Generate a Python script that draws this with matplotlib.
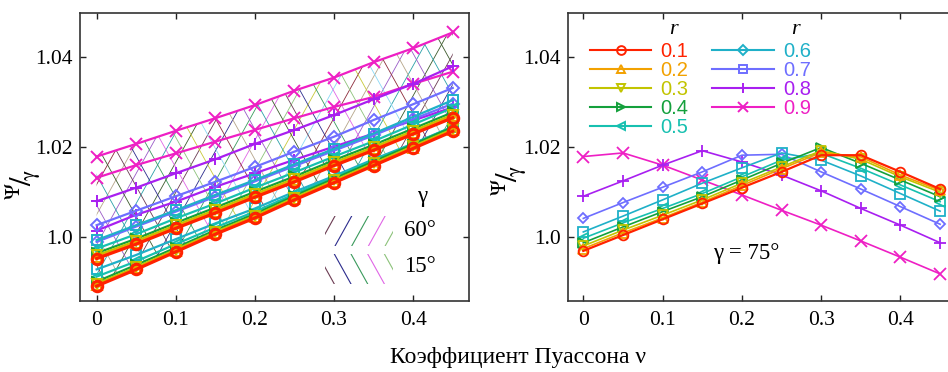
import numpy as np
import matplotlib
matplotlib.use('Agg')
import matplotlib.pyplot as plt
from matplotlib.patches import Polygon, Rectangle
from matplotlib.lines import Line2D

# ---------------- data ----------------
nu = [0.0, 0.05, 0.10, 0.15, 0.20, 0.25, 0.30, 0.35, 0.40, 0.45]
r_labels = ['0.1', '0.2', '0.3', '0.4', '0.5', '0.6', '0.7', '0.8', '0.9']

# left panel, upper family (gamma = 60 deg)
g60_r01 = [0.9953, 0.9985, 1.0020, 1.0054, 1.0089, 1.0123, 1.0159, 1.0193, 1.0229, 1.0265]
g60_r02 = [0.9956, 0.9988, 1.0023, 1.0057, 1.0092, 1.0126, 1.0162, 1.0196, 1.0232, 1.0268]
g60_r03 = [0.9960, 0.9992, 1.0027, 1.0061, 1.0096, 1.0130, 1.0166, 1.0200, 1.0236, 1.0272]
g60_r04 = [0.9965, 0.9997, 1.0032, 1.0066, 1.0101, 1.0135, 1.0171, 1.0205, 1.0241, 1.0277]
g60_r05 = [0.9975, 1.0007, 1.0042, 1.0075, 1.0110, 1.0144, 1.0179, 1.0213, 1.0250, 1.0287]
g60_r06 = [0.9994, 1.0027, 1.0060, 1.0094, 1.0127, 1.0162, 1.0196, 1.0230, 1.0267, 1.0304]
g60_r07 = [1.0027, 1.0059, 1.0091, 1.0123, 1.0156, 1.0190, 1.0223, 1.0260, 1.0295, 1.0331]
g60_r08 = [1.0080, 1.0110, 1.0142, 1.0173, 1.0207, 1.0238, 1.0271, 1.0306, 1.0340, 1.0379]
g60_r09 = [1.0179, 1.0207, 1.0236, 1.0264, 1.0293, 1.0325, 1.0354, 1.0388, 1.0419, 1.0454]

# left panel, lower family (gamma = 15 deg)
g15_r01 = [0.9892, 0.9929, 0.9968, 1.0007, 1.0043, 1.0083, 1.0121, 1.0159, 1.0197, 1.0235]
g15_r02 = [0.9894, 0.9931, 0.9970, 1.0009, 1.0045, 1.0085, 1.0123, 1.0161, 1.0199, 1.0237]
g15_r03 = [0.9897, 0.9934, 0.9973, 1.0012, 1.0048, 1.0088, 1.0126, 1.0164, 1.0202, 1.0240]
g15_r04 = [0.9902, 0.9939, 0.9977, 1.0016, 1.0052, 1.0092, 1.0130, 1.0168, 1.0206, 1.0244]
g15_r05 = [0.9913, 0.9947, 0.9985, 1.0022, 1.0057, 1.0096, 1.0133, 1.0171, 1.0207, 1.0245]
g15_r06 = [0.9929, 0.9961, 0.9996, 1.0031, 1.0064, 1.0101, 1.0136, 1.0173, 1.0208, 1.0245]
g15_r07 = [0.9990, 1.0024, 1.0057, 1.0090, 1.0124, 1.0158, 1.0192, 1.0226, 1.0262, 1.0296]
g15_r08 = [1.0015, 1.0050, 1.0079, 1.0112, 1.0142, 1.0172, 1.0201, 1.0230, 1.0259, 1.0288]
g15_r09 = [1.0132, 1.0160, 1.0186, 1.0212, 1.0238, 1.0264, 1.0289, 1.0311, 1.0340, 1.0367]

# right panel (gamma = 75 deg)
g75_r01 = [0.9970, 1.0005, 1.0040, 1.0075, 1.0110, 1.0145, 1.0182, 1.0182, 1.0145, 1.0107]
g75_r02 = [0.9975, 1.0010, 1.0043, 1.0078, 1.0115, 1.0152, 1.0188, 1.0178, 1.0138, 1.0104]
g75_r03 = [0.9981, 1.0016, 1.0049, 1.0083, 1.0120, 1.0156, 1.0192, 1.0173, 1.0134, 1.0100]
g75_r04 = [0.9988, 1.0023, 1.0057, 1.0090, 1.0127, 1.0164, 1.0199, 1.0164, 1.0127, 1.0090]
g75_r05 = [0.9998, 1.0032, 1.0064, 1.0097, 1.0134, 1.0171, 1.0186, 1.0153, 1.0116, 1.0079]
g75_r06 = [1.0012, 1.0047, 1.0083, 1.0120, 1.0154, 1.0187, 1.0171, 1.0136, 1.0097, 1.0058]
g75_r07 = [1.0042, 1.0077, 1.0111, 1.0145, 1.0182, 1.0184, 1.0145, 1.0107, 1.0068, 1.0029]
g75_r08 = [1.0091, 1.0125, 1.0160, 1.0192, 1.0167, 1.0138, 1.0103, 1.0064, 1.0027, 0.9988]
g75_r09 = [1.0179, 1.0187, 1.0160, 1.0127, 1.0094, 1.0060, 1.0027, 0.9992, 0.9956, 0.9919]

left_g60 = [g60_r01, g60_r02, g60_r03, g60_r04, g60_r05, g60_r06, g60_r07, g60_r08, g60_r09]
left_g15 = [g15_r01, g15_r02, g15_r03, g15_r04, g15_r05, g15_r06, g15_r07, g15_r08, g15_r09]
right_g75 = [g75_r01, g75_r02, g75_r03, g75_r04, g75_r05, g75_r06, g75_r07, g75_r08, g75_r09]

xticks = [0.0, 0.1, 0.2, 0.3, 0.4]
xtick_labels = ['0', '0.1', '0.2', '0.3', '0.4']
yticks = [1.0, 1.02, 1.04]
ytick_labels = ['1.0', '1.02', '1.04']
gamma_legend = ['60°', '15°']

# ---------------- styles ----------------
colors = ['#ff2200', '#f2a100', '#c2c400', '#14a03c', '#17c0b0',
          '#1fb0c8', '#6e6eff', '#a81ff0', '#ee1fc4']
plot_markers = ['o', '^', 'v', '>', '<', 's', 'D', '+', 'x']
legend_markers = ['o', '^', 'v', '>', '<', 'D', 's', '+', 'x']
hatch_colors = ['#6b3b52', '#2b2b8c', '#3a9a5c', '#e066e6', '#8cc27a',
                '#c8c838', '#8ad8f5', '#8c2a3a', '#b5a58a', '#9a5ac8',
                '#2aa0a8', '#3c5a2c']

plt.rcParams['font.family'] = ['Liberation Serif', 'DejaVu Serif']
plt.rcParams['mathtext.fontset'] = 'stix'

W, H = 948, 372
fig = plt.figure(figsize=(W / 100, H / 100), dpi=100)
AX_W, AX_H = 389, 288
axL = fig.add_axes([80 / W, 71 / H, AX_W / W, AX_H / H])
axR = fig.add_axes([567.7 / W, 71 / H, AX_W / W, AX_H / H])

for ax, xl in ((axL, (-0.021, 0.4705)), (axR, (-0.0197, 0.4709))):
    ax.set_xlim(*xl)
    ax.set_ylim(0.9859, 1.0497)
    ax.set_xticks(xticks)
    ax.set_xticklabels(xtick_labels)
    ax.set_yticks(yticks)
    ax.set_yticklabels(ytick_labels)
    ax.tick_params(direction='in', top=True, right=True, length=4.5,
                   width=1.0, labelsize=15.5, color='#222222')
    ax.tick_params(axis='x', pad=7)
    ax.tick_params(axis='y', pad=5)
    for s in ax.spines.values():
        s.set_linewidth(1.2)
        s.set_color('#333333')

# ---------------- hatching (left panel) ----------------
SLOPE = 1.8
SP = 16.7


def hatch_lines(ax, clip, direction, x0_first, n, cols, lw=0.6):
    for k in range(n):
        x0 = x0_first + k * SP
        px = np.array([x0, x0 + AX_H / SLOPE])
        py = np.array([0.0, AX_H]) if direction == '/' else np.array([AX_H, 0.0])
        ln, = ax.plot(px / AX_W, py / AX_H, transform=ax.transAxes,
                      color=cols[k % len(cols)], lw=lw, zorder=1)
        ln.set_clip_path(clip)


verts = np.column_stack([nu + nu[::-1], g60_r09 + g15_r01[::-1]])
region = Polygon(verts, closed=True, transform=axL.transData)
nlines = int((AX_W + AX_H / SLOPE) / SP) + 3
hatch_lines(axL, region, '/', -AX_H / SLOPE - 5, nlines, hatch_colors)
hatch_lines(axL, region, '\\', -AX_H / SLOPE + 3, nlines, hatch_colors[5:] + hatch_colors[:5])

# gamma legend samples
leg_cols = ['#6b3b52', '#2b2b8c', '#3a9a5c', '#e066e6', '#8cc27a']
rect60 = Rectangle((245 / AX_W, 55 / AX_H), 67.7 / AX_W, 30 / AX_H, transform=axL.transAxes)
rect15 = Rectangle((245 / AX_W, 17 / AX_H), 67.7 / AX_W, 30 / AX_H, transform=axL.transAxes)
hatch_lines(axL, rect60, '/', 255 - 85 / SLOPE, 5, leg_cols, lw=0.8)
hatch_lines(axL, rect15, '\\', 254.3 - AX_H / SLOPE + 17 / SLOPE, 5, leg_cols, lw=0.8)

axL.text(341.7 / AX_W, (301 - 196.7) / AX_H, 'γ', transform=axL.transAxes,
         ha='center', va='center', fontsize=16.5)
axL.text(340 / AX_W, (301 - 230) / AX_H, gamma_legend[0], transform=axL.transAxes,
         ha='center', va='center', fontsize=16.5)
axL.text(340 / AX_W, (301 - 267) / AX_H, gamma_legend[1], transform=axL.transAxes,
         ha='center', va='center', fontsize=16.5)

# ---------------- series ----------------
def marker_size(m, base):
    if m == 'D':
        return base * 0.8
    if m in ('+', 'x'):
        return base * 1.15
    return base


for fam in (left_g15, left_g60):
    for i in range(8, -1, -1):
        m = plot_markers[i]
        lw = 2.3 if i == 0 else 1.6
        mew = 2.2 if i == 0 else 1.4
        axL.plot(nu, fam[i], color=colors[i], lw=lw, marker=m,
                 ms=marker_size(m, 7.5), mfc='none', mec=colors[i], mew=mew,
                 zorder=3 + (8 - i) * 0.1)

for i in range(8, -1, -1):
    m = plot_markers[i]
    lw = 1.6 if i == 0 else 1.2
    axR.plot(nu, right_g75[i], color=colors[i], lw=lw, marker=m,
             ms=marker_size(m, 7), mfc='none', mec=colors[i], mew=1.3,
             zorder=3 + (8 - i) * 0.1)

# ---------------- legends (right panel) ----------------
handles = [Line2D([], [], color=colors[i], lw=1.5, marker=legend_markers[i],
                  ms=marker_size(legend_markers[i], 6.3), mfc='none',
                  mec=colors[i], mew=1.4) for i in range(9)]
leg_kw = dict(frameon=False, loc='upper left', borderpad=0, borderaxespad=0,
              handlelength=3.05, handletextpad=0.45, labelspacing=0.0,
              labelcolor='linecolor',
              prop={'family': 'Liberation Sans', 'size': 14.5})
leg1 = axR.legend(handles[:5], r_labels[:5],
                  bbox_to_anchor=((590 - 567.7) / AX_W, (301 - 42) / AX_H), **leg_kw)
axR.add_artist(leg1)
axR.legend(handles[5:], r_labels[5:],
           bbox_to_anchor=((712.3 - 567.7) / AX_W, (301 - 42) / AX_H), **leg_kw)
axR.text((673.3 - 567.7) / AX_W, (301 - 29) / AX_H, 'r', transform=axR.transAxes,
         ha='center', va='center', fontsize=16, style='italic')
axR.text((795 - 567.7) / AX_W, (301 - 29) / AX_H, 'r', transform=axR.transAxes,
         ha='center', va='center', fontsize=16, style='italic')
axR.text((746.7 - 567.7) / AX_W, (301 - 253.3) / AX_H, 'γ = 75°', transform=axR.transAxes,
         ha='center', va='center', fontsize=16.5)

# ---------------- axis labels ----------------
ylab = r'$^{\mathrm{\Psi}}\!/\!_{\mathrm{\gamma}}$'
fig.text(23 / W, 1 - 185 / H, ylab, rotation=90, ha='center', va='center', fontsize=22)
fig.text(509 / W, 1 - 181 / H, ylab, rotation=90, ha='center', va='center', fontsize=22)
fig.text(518 / W, 1 - 358 / H, 'Коэффициент Пуассона ν', ha='center', va='center',
         fontsize=17)

fig.savefig('out.png', dpi=100)
